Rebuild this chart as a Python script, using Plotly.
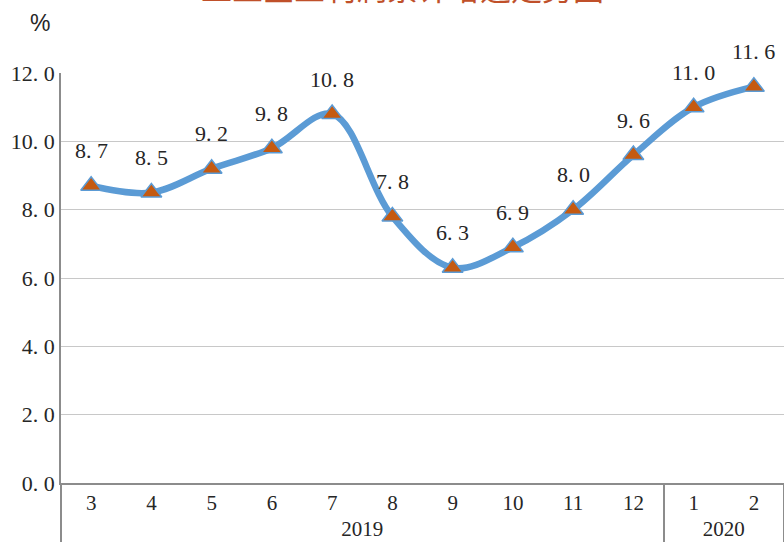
import plotly.graph_objects as go

# data
YEARS = ["2019"] * 10 + ["2020"] * 2
MONTHS = ["3", "4", "5", "6", "7", "8", "9", "10", "11", "12", "1", "2"]
VALUES = [8.7, 8.5, 9.2, 9.8, 10.8, 7.8, 6.3, 6.9, 8.0, 9.6, 11.0, 11.6]
LABELS = ["8. 7", "8. 5", "9. 2", "9. 8", "10. 8", "7. 8", "6. 3", "6. 9",
          "8. 0", "9. 6", "11. 0", "11. 6"]
Y_TICKS = [0, 2, 4, 6, 8, 10, 12]
Y_TICK_TEXT = ["0. 0", "2. 0", "4. 0", "6. 0", "8. 0", "10. 0", "12. 0"]
TITLE = "工业企业利润累计增速走势图"

COLORS = {
    'line': '#5B9BD5',
    'marker': '#C55A11',
    'grid': '#C8C8C8',
    'axis': '#8C8C8C',
    'text': '#262626',
    'title': '#C0502A',
}
SERIF = "Liberation Serif"

fig = go.Figure()
fig.add_trace(go.Scatter(
    x=[YEARS, MONTHS],
    y=VALUES,
    mode='lines+markers',
    line=dict(color=COLORS['line'], width=6.5, shape='spline', smoothing=1.0),
    marker=dict(symbol='triangle-up', size=18, color=COLORS['marker'],
                line=dict(color=COLORS['line'], width=1.5)),
    showlegend=False,
    hoverinfo='skip',
))

# value labels above each point
for yr, mo, v, lab in zip(YEARS, MONTHS, VALUES, LABELS):
    fig.add_annotation(
        x=[yr, mo], y=v, xref='x', yref='y',
        text=lab, showarrow=False, yshift=35,
        font=dict(family=SERIF, size=22, color=COLORS['text']),
    )

# "%" unit label, placed in pixels relative to the plot area (61..784, 73..483)
fig.add_annotation(
    x=(40 - 61) / 723, y=(483 - 23) / 410, xref='paper', yref='paper',
    xanchor='center', yanchor='middle',
    text='%', showarrow=False,
    font=dict(family='Liberation Sans', size=23, color=COLORS['text']),
)

# title is cut off at the top edge of the picture
fig.add_annotation(
    x=(402 - 61) / 723, y=1, xref='paper', yref='paper', yanchor='bottom',
    yshift=62, text=TITLE, showarrow=False,
    font=dict(family='Noto Sans CJK SC', size=31, color=COLORS['title']),
)

fig.update_layout(
    width=784, height=550,
    margin=dict(l=61, r=0, t=73, b=67),
    paper_bgcolor='white',
    plot_bgcolor='white',
    font=dict(family=SERIF, color=COLORS['text']),
    xaxis=dict(
        type='multicategory',
        range=[-0.5, 11.5],
        automargin=False,
        showgrid=False,
        showline=True, linecolor=COLORS['axis'], linewidth=2,
        showdividers=True, dividercolor=COLORS['axis'], dividerwidth=1.5,
        tickfont=dict(family=SERIF, size=21, color=COLORS['text']),
        ticks='',
    ),
    yaxis=dict(
        range=[0, 12],
        automargin=False,
        tickvals=Y_TICKS, ticktext=Y_TICK_TEXT,
        showgrid=True, gridcolor=COLORS['grid'], gridwidth=1,
        zeroline=False,
        showline=True, linecolor=COLORS['axis'], linewidth=1.5,
        tickfont=dict(family=SERIF, size=22, color=COLORS['text']),
        ticks='',
    ),
)

# drop the browser's default page margin so the figure sits at the corner
fig.write_html("out.html", config={'displayModeBar': False},
               post_script="document.body.style.margin='0';")
